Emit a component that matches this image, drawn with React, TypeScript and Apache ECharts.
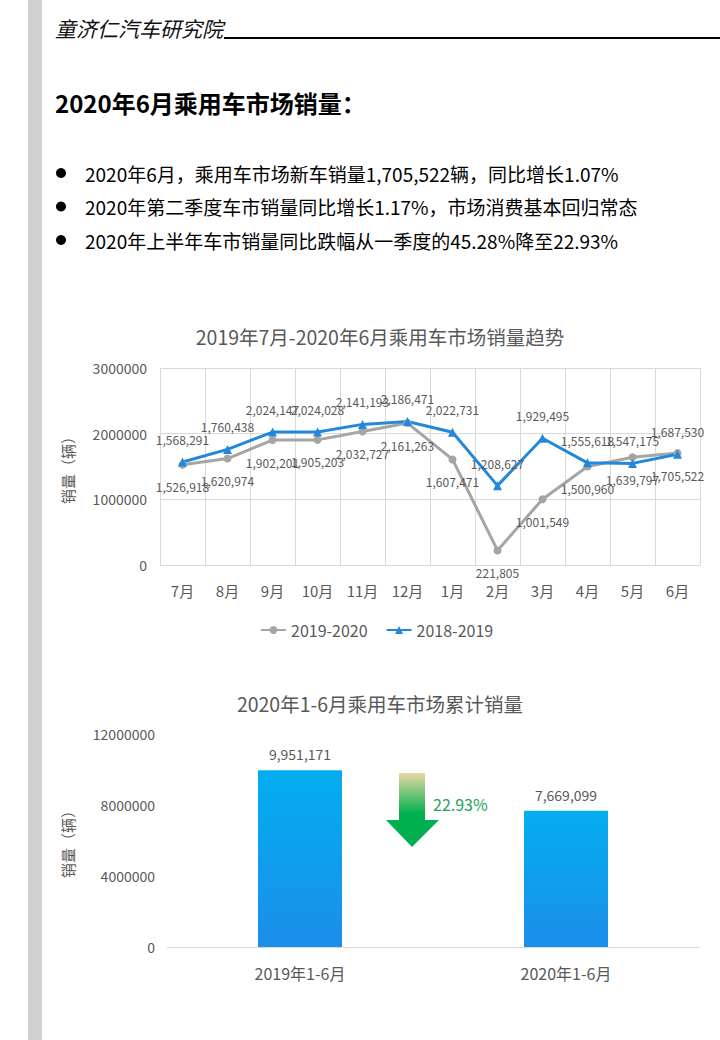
import React, { useEffect, useRef } from "react";
import * as echarts from "echarts";

const months = ["7月", "8月", "9月", "10月", "11月", "12月", "1月", "2月", "3月", "4月", "5月", "6月"];
const sales1920 = [1526918, 1620974, 1902201, 1905203, 2032727, 2161263, 1607471, 221805, 1001549, 1500960, 1639797, 1705522];
const sales1819 = [1568291, 1760438, 2024147, 2024028, 2141193, 2186471, 2022731, 1208627, 1929495, 1555618, 1547175, 1687530];
const seriesNames = ["2019-2020", "2018-2019"];

const cumCategories = ["2019年1-6月", "2020年1-6月"];
const cumSales = [9951171, 7669099];
const declineText = "22.93%";

const headerText = "童济仁汽车研究院";
const pageTitle = "2020年6月乘用车市场销量：";
const bullets = [
  "2020年6月，乘用车市场新车销量1,705,522辆，同比增长1.07%",
  "2020年第二季度车市销量同比增长1.17%，市场消费基本回归常态",
  "2020年上半年车市销量同比跌幅从一季度的45.28%降至22.93%",
];
const lineTitle = "2019年7月-2020年6月乘用车市场销量趋势";
const barTitle = "2020年1-6月乘用车市场累计销量";
const yName = "销量（辆）";

const FONT = "'Noto Sans CJK SC', 'Noto Sans', sans-serif";
const TXT = "#595959";

const fmt = (v: number) => v.toLocaleString("en-US");

export default function App() {
  const ref = useRef<HTMLDivElement>(null);
  useEffect(() => {
    if (!ref.current) return;
    const chart = echarts.init(ref.current, null, { renderer: "svg" });

    const bulletGraphics: any[] = [];
    bullets.forEach((b, i) => {
      const y = 173 + i * 33.5;
      bulletGraphics.push({ type: "circle", shape: { cx: 61, cy: y, r: 5 }, style: { fill: "#000" } });
      bulletGraphics.push({
        type: "text",
        x: 85,
        y,
        style: { text: b, fontSize: 19, fontFamily: FONT, fill: "#000", textAlign: "left", textVerticalAlign: "middle" },
      });
    });

    const option: any = {
      animation: false,
      backgroundColor: "#fff",
      textStyle: { fontFamily: FONT },
      graphic: [
        { type: "rect", shape: { x: 28, y: 0, width: 14, height: 1040 }, style: { fill: "#D0D0D0" } },
        {
          type: "text",
          x: 55,
          y: 28,
          style: { text: headerText, fontSize: 21, fontStyle: "italic", fontFamily: FONT, fill: "#111", textAlign: "left", textVerticalAlign: "middle" },
        },
        { type: "line", shape: { x1: 224, y1: 38, x2: 720, y2: 38 }, style: { stroke: "#000", lineWidth: 2 } },
        {
          type: "text",
          x: 55,
          y: 102,
          style: { text: pageTitle, fontSize: 24, fontWeight: "bold", fontFamily: FONT, fill: "#000", textAlign: "left", textVerticalAlign: "middle" },
        },
        ...bulletGraphics,
        {
          type: "text",
          x: 380,
          y: 336,
          style: { text: lineTitle, fontSize: 19.5, fontFamily: FONT, fill: TXT, textAlign: "center", textVerticalAlign: "middle" },
        },
        {
          type: "text",
          x: 380,
          y: 703,
          style: { text: barTitle, fontSize: 19.5, fontFamily: FONT, fill: TXT, textAlign: "center", textVerticalAlign: "middle" },
        },
        {
          type: "polygon",
          shape: {
            points: [
              [399, 773],
              [425, 773],
              [425, 820],
              [439, 820],
              [412, 847],
              [386, 820],
              [399, 820],
            ],
          },
          style: {
            fill: new echarts.graphic.LinearGradient(0, 0, 0, 1, [
              { offset: 0, color: "#E8D9A3" },
              { offset: 0.55, color: "#00B050" },
              { offset: 1, color: "#00B050" },
            ]),
          },
        },
        {
          type: "text",
          x: 433,
          y: 804,
          style: { text: declineText, fontSize: 16, fontFamily: FONT, fill: "#22A35A", textAlign: "left", textVerticalAlign: "middle" },
        },
      ],
      legend: {
        data: seriesNames,
        left: 255,
        top: 617,
        itemWidth: 25,
        itemHeight: 10,
        itemGap: 18,
        textStyle: { fontSize: 16, color: TXT, fontFamily: FONT },
      },
      grid: [
        { left: 160, top: 368, width: 540, height: 197 },
        { left: 167, top: 734, width: 532, height: 213 },
      ],
      xAxis: [
        {
          type: "category",
          gridIndex: 0,
          data: months,
          boundaryGap: true,
          axisLine: { lineStyle: { color: "#D9D9D9" } },
          axisTick: { show: false },
          axisLabel: { color: TXT, fontSize: 15, margin: 18, interval: 0 },
          splitLine: { show: true, interval: 0, lineStyle: { color: "#D9D9D9" } },
        },
        {
          type: "category",
          gridIndex: 1,
          data: cumCategories,
          axisLine: { lineStyle: { color: "#D9D9D9" } },
          axisTick: { show: false },
          axisLabel: { color: TXT, fontSize: 16, margin: 18 },
        },
      ],
      yAxis: [
        {
          type: "value",
          gridIndex: 0,
          min: 0,
          max: 3000000,
          interval: 1000000,
          name: yName,
          nameLocation: "middle",
          nameGap: 85,
          nameTextStyle: { color: TXT, fontSize: 15 },
          axisLabel: { color: TXT, fontSize: 14, margin: 13, formatter: (v: number) => String(v) },
          axisLine: { show: false },
          axisTick: { show: false },
          splitLine: { lineStyle: { color: "#D9D9D9" } },
        },
        {
          type: "value",
          gridIndex: 1,
          min: 0,
          max: 12000000,
          interval: 4000000,
          name: yName,
          nameLocation: "middle",
          nameGap: 92,
          nameTextStyle: { color: TXT, fontSize: 15 },
          axisLabel: { color: TXT, fontSize: 14, margin: 12, formatter: (v: number) => String(v) },
          axisLine: { show: false },
          axisTick: { show: false },
          splitLine: { show: false },
        },
      ],
      series: [
        {
          name: seriesNames[0],
          type: "line",
          xAxisIndex: 0,
          yAxisIndex: 0,
          data: sales1920,
          symbol: "circle",
          symbolSize: 8,
          color: "#A5A5A5",
          lineStyle: { width: 3, color: "#A5A5A5" },
          itemStyle: { color: "#A5A5A5" },
          label: { show: true, position: "bottom", distance: 12, color: TXT, fontSize: 12, formatter: (p: any) => fmt(p.value) },
        },
        {
          name: seriesNames[1],
          type: "line",
          xAxisIndex: 0,
          yAxisIndex: 0,
          data: sales1819,
          symbol: "triangle",
          symbolSize: 9,
          color: "#2388DB",
          lineStyle: { width: 3, color: "#2388DB" },
          itemStyle: { color: "#2388DB" },
          label: { show: true, position: "top", distance: 12, color: TXT, fontSize: 12, formatter: (p: any) => fmt(p.value) },
        },
        {
          name: "累计销量",
          type: "bar",
          xAxisIndex: 1,
          yAxisIndex: 1,
          data: cumSales,
          barWidth: 84,
          itemStyle: {
            color: new echarts.graphic.LinearGradient(0, 0, 0, 1, [
              { offset: 0, color: "#03AEEF" },
              { offset: 1, color: "#1B8EE9" },
            ]),
          },
          label: { show: true, position: "top", distance: 9, color: TXT, fontSize: 14, formatter: (p: any) => fmt(p.value) },
        },
      ],
    };
    chart.setOption(option);
    return () => chart.dispose();
  }, []);

  return <div ref={ref} style={{ position: "fixed", left: 0, top: 0, width: 720, height: 1040 }} />;
}
